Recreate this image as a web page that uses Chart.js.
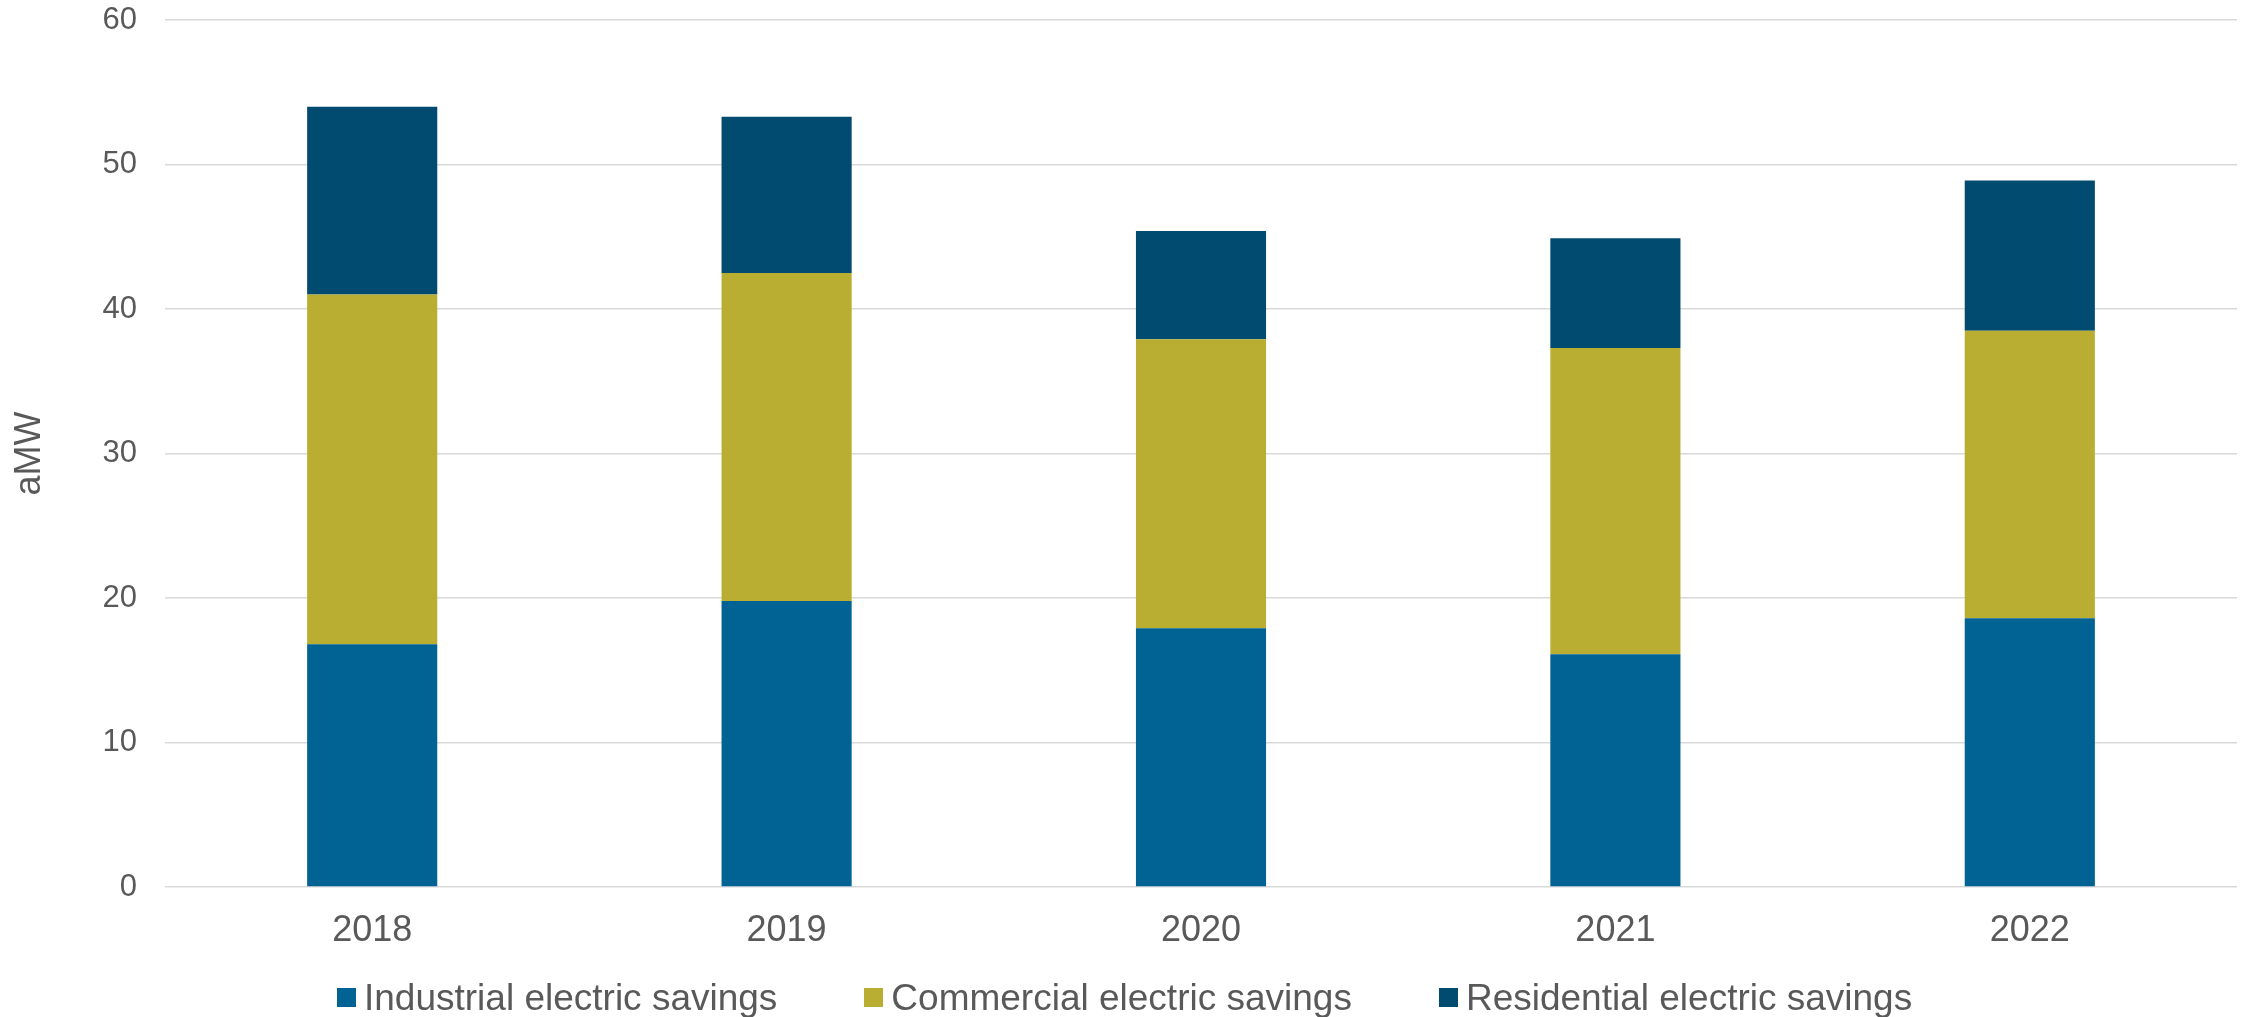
<!DOCTYPE html>
<html>
<head>
<meta charset="utf-8">
<title>Electric savings by sector</title>
<script src="https://cdn.jsdelivr.net/npm/chart.js@4.4.1/dist/chart.umd.min.js"></script>
<style>
  html, body { margin: 0; padding: 0; background: #ffffff; }
  #wrap { width: 2243px; height: 1017px; position: relative; }
  #legend {
    position: absolute; left: 337px; top: 979px; height: 37px;
    display: flex; align-items: center;
    font-family: 'Liberation Sans', Arial, Helvetica, sans-serif;
    font-size: 37px; line-height: 37px; color: #595959; white-space: nowrap;
  }
  #legend .item { display: flex; align-items: center; margin-right: 87px; }
  #legend .box { width: 19px; height: 19px; margin-right: 8px; }
</style>
</head>
<body>
<div id="wrap">
  <canvas id="savings"></canvas>
  <div id="legend"></div>
</div>
<script>
const years = ['2018', '2019', '2020', '2021', '2022'];

// aMW per sector, stacked bottom to top
const industrial = [16.8, 19.8, 17.9, 16.1, 18.6];
const commercial = [24.2, 22.7, 20.0, 21.2, 19.9];
const residential = [13.0, 10.8, 7.5, 7.6, 10.4];

const yTicks = [0, 10, 20, 30, 40, 50, 60];

const FONT = "'Liberation Sans', Arial, Helvetica, sans-serif";
const TEXT = '#595959';

Chart.defaults.font.family = FONT;
Chart.defaults.color = TEXT;

const chart = new Chart(document.getElementById('savings'), {
  type: 'bar',
  data: {
    labels: years,
    datasets: [
      { label: 'Industrial electric savings', data: industrial, backgroundColor: '#006394' },
      { label: 'Commercial electric savings', data: commercial, backgroundColor: '#b9ae32' },
      { label: 'Residential electric savings', data: residential, backgroundColor: '#014b70' },
    ],
  },
  options: {
    responsive: true,
    maintainAspectRatio: false,
    animation: false,
    layout: { padding: { top: 20, right: 6, bottom: 0, left: 0 } },
    datasets: {
      bar: { categoryPercentage: 1, barPercentage: 0.314, borderWidth: 0 },
    },
    plugins: {
      tooltip: { enabled: false },
      legend: { display: false },
    },
    scales: {
      x: {
        stacked: true,
        grid: { display: false, drawTicks: false },
        border: { display: false },
        ticks: { font: { size: 36 }, color: TEXT, padding: 22 },
        afterFit: (scale) => { scale.height = 130; },
      },
      y: {
        stacked: true,
        min: 0,
        max: 60,
        afterBuildTicks: (scale) => { scale.ticks = yTicks.map((v) => ({ value: v })); },
        // invisible tick marks keep the labels off the grid without adding top padding
        grid: { color: '#d9d9d9', lineWidth: 1.5, tickLength: 28, tickColor: 'rgba(0,0,0,0)' },
        border: { display: false },
        ticks: { font: { size: 31 }, color: TEXT, padding: 0 },
        title: {
          display: true,
          text: 'aMW',
          font: { size: 36 },
          color: TEXT,
          padding: { top: 8, bottom: 0 },
        },
        afterFit: (scale) => { scale.width = 165; },
      },
    },
  },
});

// legend row under the axis, built from the datasets
const legendEl = document.getElementById('legend');
chart.data.datasets.forEach((ds) => {
  const item = document.createElement('span');
  item.className = 'item';
  const box = document.createElement('span');
  box.className = 'box';
  box.style.background = ds.backgroundColor;
  const label = document.createElement('span');
  label.textContent = ds.label;
  item.append(box, label);
  legendEl.append(item);
});
</script>
</body>
</html>
